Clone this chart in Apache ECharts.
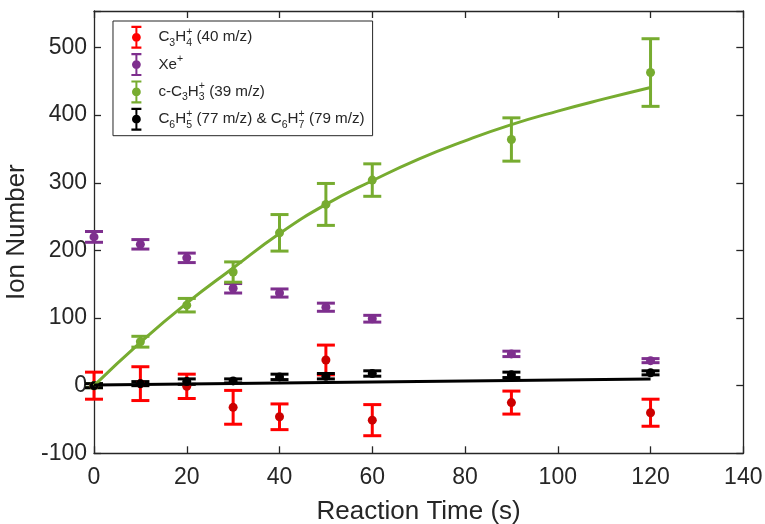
<!DOCTYPE html>
<html><head><meta charset="utf-8">
<script src="https://cdn.jsdelivr.net/npm/echarts@6/dist/echarts.min.js"></script>
<style>html,body{margin:0;padding:0;background:#fff}#c{width:765px;height:524px}</style>
</head><body><div id="c"></div>
<script>
// ---- data ----
const times = [0, 10, 20, 30, 40, 50, 60, 90, 120];
const c3h4Vals = [0, 3, -1, -32, -46, 38, -51, -25, -40];
const c3h4Errs = [20, 25, 18, 25, 19, 22, 23, 17, 20];
const xeVals = [220, 209, 189, 144, 137, 116, 99, 47, 37];
const xeErrs = [8, 7, 7, 7, 6, 6, 5, 4, 3];
const cc3h3Vals = [0, 65, 119, 168, 226, 268, 304, 364, 463];
const cc3h3Errs = [3, 8, 10, 15, 27, 31, 24, 32, 50];
const c6Vals = [0, 3, 6, 7, 13, 14, 18, 16, 19];
const c6Errs = [3, 3, 4, 3, 4, 4, 4, 4, 3];
const cc3h3FitT = [0, 10, 20, 30, 40, 50, 60, 70, 80, 90, 100, 110, 120];
const cc3h3FitVals = [0, 64, 122, 174, 225, 268, 303, 335, 362, 386, 406, 424, 441];
const c6FitT = [0, 120];
const c6FitVals = [1, 10];
const xTicks = [0, 20, 40, 60, 80, 100, 120, 140];
const yTicks = [-100, 0, 100, 200, 300, 400, 500];
const yTop = 554;
const seriesNames = ['C3H4', 'Xe', 'cC3H3', 'C6'];
const legendLabels = {
  'C3H4': 'C{sb|3}H{sb0|4}{sp|+} (40 m/z)',
  'Xe': 'Xe{sp|+}',
  'cC3H3': 'c-C{sb|3}H{sb0|3}{sp|+} (39 m/z)',
  'C6': 'C{sb|6}H{sb0|5}{sp|+} (77 m/z) & C{sb|6}H{sb0|7}{sp|+} (79 m/z)'
};

const FONT = '"Liberation Sans", Arial, Helvetica, sans-serif';
const AX = '#262626';
const colors = {
  C3H4: { bar: '#FF0000', dot: '#CC0000' },
  Xe: { bar: '#7E2F8E', dot: '#7E2F8E' },
  cC3H3: { bar: '#77AC30', dot: '#77AC30' },
  C6: { bar: '#000000', dot: '#000000' }
};
const ICON = 'path://M0,0 H10 V2.2 H0 Z M4,0 H6 V23 H4 Z M0,20.8 H10 V23 H0 Z M0.6,11.5 A4.4,4.4 0 1,1 9.4,11.5 A4.4,4.4 0 1,1 0.6,11.5 Z';

function pts(xs, ys) { return xs.map((x, i) => [x, ys[i]]); }
function bars(xs, ys, es) { return xs.map((x, i) => [x, ys[i] - es[i], ys[i] + es[i]]); }

function errRender(color) {
  return function (params, api) {
    const x = api.value(0), lo = api.value(1), hi = api.value(2);
    const a = api.coord([x, lo]), b = api.coord([x, hi]);
    const st = { stroke: color, lineWidth: 3, fill: null };
    const h = 9;
    return { type: 'group', children: [
      { type: 'line', shape: { x1: a[0], y1: a[1], x2: b[0], y2: b[1] }, style: st },
      { type: 'line', shape: { x1: a[0] - h, y1: a[1], x2: a[0] + h, y2: a[1] }, style: st },
      { type: 'line', shape: { x1: b[0] - h, y1: b[1], x2: b[0] + h, y2: b[1] }, style: st }
    ] };
  };
}

const dataSets = {
  C3H4: [c3h4Vals, c3h4Errs],
  Xe: [xeVals, xeErrs],
  cC3H3: [cc3h3Vals, cc3h3Errs],
  C6: [c6Vals, c6Errs]
};

const series = [];
seriesNames.forEach(n => {
  const [v, e] = dataSets[n];
  series.push({
    name: n + '_err', type: 'custom', renderItem: errRender(colors[n].bar),
    data: bars(times, v, e), encode: { x: 0, y: [1, 2] }, silent: true
  });
  series.push({
    name: n, type: 'scatter', data: pts(times, v), symbol: 'circle', symbolSize: 9,
    itemStyle: { color: colors[n].dot, opacity: 1 }, color: colors[n].bar
  });
});
series.push({
  name: 'cC3H3_fit', type: 'line', data: pts(cc3h3FitT, cc3h3FitVals), smooth: 0.5,
  showSymbol: false, lineStyle: { color: '#77AC30', width: 3 }, silent: true
});
series.push({
  name: 'C6_fit', type: 'line', data: pts(c6FitT, c6FitVals),
  showSymbol: false, lineStyle: { color: '#000000', width: 3 }, silent: true
});

const axisCommon = {
  axisLine: { show: true, onZero: false, lineStyle: { color: AX, width: 1.3 } },
  axisTick: { show: true, inside: true, length: 7, lineStyle: { color: AX, width: 1.3 } },
  splitLine: { show: false }
};

const option = {
  animation: false,
  backgroundColor: '#fff',
  grid: { left: 94, right: 21.7, top: 11, bottom: 70.7, containLabel: false, outerBoundsMode: 'none' },
  xAxis: [
    Object.assign({
      type: 'value', position: 'bottom', min: xTicks[0], max: xTicks[xTicks.length - 1],
      interval: xTicks[1] - xTicks[0],
      name: 'Reaction Time (s)', nameLocation: 'middle', nameGap: 46,
      nameTextStyle: { fontSize: 26, color: AX, fontFamily: FONT },
      axisLabel: { fontSize: 23, color: AX, fontFamily: FONT, margin: 13 }
    }, axisCommon),
    Object.assign({
      type: 'value', position: 'top', min: xTicks[0], max: xTicks[xTicks.length - 1],
      interval: xTicks[1] - xTicks[0], axisLabel: { show: false }
    }, axisCommon)
  ],
  yAxis: [
    Object.assign({
      type: 'value', position: 'left', min: yTicks[0], max: yTop,
      interval: yTicks[1] - yTicks[0],
      name: 'Ion Number', nameLocation: 'middle', nameGap: 53,
      nameTextStyle: { fontSize: 26, color: AX, fontFamily: FONT },
      axisLabel: { fontSize: 23, color: AX, fontFamily: FONT, margin: 7,
        formatter: v => (yTicks.indexOf(v) >= 0 ? String(v) : '') }
    }, axisCommon),
    Object.assign({
      type: 'value', position: 'right', min: yTicks[0], max: yTop,
      interval: yTicks[1] - yTicks[0], axisLabel: { show: false }
    }, axisCommon)
  ],
  legend: {
    orient: 'vertical', left: 113, top: 21,
    padding: [4.8, 8, 5, 18.4],
    itemWidth: 34, itemHeight: 23, itemGap: 4.3,
    borderColor: AX, borderWidth: 1, backgroundColor: '#fff',
    data: seriesNames.map(n => ({ name: n, icon: ICON, itemStyle: { color: colors[n].bar } })),
    formatter: n => legendLabels[n],
    textStyle: {
      fontSize: 15.2, lineHeight: 22, color: AX, fontFamily: FONT,
      rich: {
        sb: { fontSize: 10.5, lineHeight: 10, verticalAlign: 'bottom', fontFamily: FONT, color: AX },
        sb0: { fontSize: 10.5, lineHeight: 10, verticalAlign: 'bottom', fontFamily: FONT, color: AX, width: 0 },
        sp: { fontSize: 10.5, lineHeight: 10, verticalAlign: 'top', fontFamily: FONT, color: AX }
      }
    },
    selectedMode: false
  },
  series: series
};

const chart = echarts.init(document.getElementById('c'), null, { renderer: 'canvas' });
chart.setOption(option);
</script>
</body></html>
